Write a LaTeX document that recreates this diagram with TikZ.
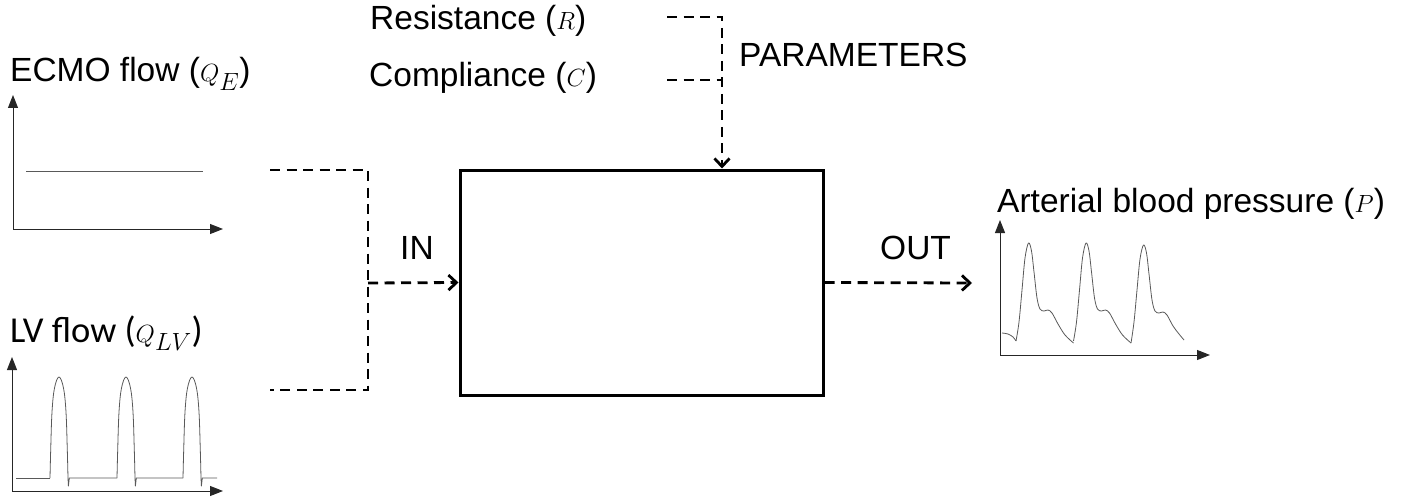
\documentclass[tikz,border=0pt]{standalone}
\usepackage{fontspec}
\setmainfont{Liberation Sans}
\newfontfamily\calibrifont{Carlito}
\usetikzlibrary{arrows.meta}

\begin{document}
\begin{tikzpicture}[x=1pt,y=-1pt,
  lbl/.style={inner sep=0pt, anchor=base west, font=\fontsize{33.5}{38}\selectfont},
  lvlbl/.style={inner sep=0pt, anchor=base west, font=\calibrifont\fontsize{36.5}{42}\selectfont},
  link/.style={line width=2.8pt, dash pattern=on 10pt off 6.5pt},
  flowarrow/.style={link, -{Straight Barb[length=8pt,width=15pt,line width=2.8pt]}},
  axis/.style={line width=1pt, draw=black!85, -{Triangle[length=13pt,width=10pt]}},
  trace/.style={line width=0.8pt, draw=black!65, line join=round},
  model/.style={draw, line width=3pt, minimum width=363pt, minimum height=225pt, inner sep=0pt}]
\useasboundingbox (0,0) rectangle (1408,500);

% ---- model block ----
\node[model] (model) at (641.5,282.5) {};

% ---- labels ----
\node[lbl] (ecmo) at (10,82) {ECMO flow (\(Q_E\))};
\node[lvlbl] (lv) at (10,342) {LV flow (\(Q_{LV}\))};
\node[lbl] (res) at (370,30) {Resistance (\(R\))};
\node[lbl] (comp) at (369,87) {Compliance (\(C\))};
\node[lbl] (par) at (739,67) {PARAMETERS};
\node[lbl] (in) at (400,259) {IN};
\node[lbl] (out) at (880,259) {OUT};
\node[lbl] (abp) at (997,212) {Arterial blood pressure (\(P\))};

% ---- connector end points ----
\coordinate (ecmoEnd) at (270,170);
\coordinate (lvEnd) at (270,390);
\coordinate (join) at (368,283);
\coordinate (rEnd) at (667,17);
\coordinate (cEnd) at (667,80);
\coordinate (pcol) at (722,17);
\coordinate (outEnd) at (972,283);

% inputs merge into the model
\draw[link] (ecmoEnd) -- (ecmoEnd -| join) -- (lvEnd -| join) -- (lvEnd);
\draw[flowarrow] (join) -- (model.west);
% parameters feed the model from above
\draw[flowarrow] (rEnd) -- (pcol) -- (pcol |- model.north);
\draw[link] (cEnd) -- (cEnd -| pcol);
% output
\draw[flowarrow] (model.east) -- (outEnd);

% ---- ECMO flow plot ----
\draw[axis] (13,229) -- (13,95);
\draw[axis] (13,229) -- (223,229);
\draw[trace] (26,171) -- (203,171);

% ---- LV flow plot ----
\draw[axis] (12,491) -- (12,357);
\draw[axis] (12,491) -- (223,491);
\draw[trace] (16,478) -- (50,478);
\foreach \s/\n in {50/117, 117/183, 183/217}{
  \draw[trace] plot[smooth, tension=0.6] coordinates
    {(\s,478) (\s+0.7,450) (\s+2,412) (\s+4.5,388) (\s+9,377) (\s+13.5,388) (\s+16,412) (\s+17.3,450) (\s+18,478)}
    -- (\s+18.4,486) -- (\s+19.3,478) -- (\n,478);
}

% ---- arterial pressure plot ----
\draw[axis] (1000,355) -- (1000,220);
\draw[axis] (1000,355) -- (1210,355);
\draw[trace] plot[smooth, tension=0.6] coordinates {(1002,333) (1008,334) (1013,337) (1016,341)};
\foreach \b in {1016,1073.5}{
  \draw[trace] plot[smooth, tension=0.55] coordinates
    {(\b,341) (\b+3,322) (\b+6,290) (\b+9,258) (\b+12.5,243) (\b+15.5,251) (\b+18,272) (\b+21,298)
     (\b+24,309) (\b+28,311) (\b+32,310) (\b+36,313) (\b+42,324) (\b+49,335) (\b+57.5,343)};
}
\draw[trace] plot[smooth, tension=0.55] coordinates
  {(1131,343) (1134,322) (1137,290) (1140,259) (1143.5,245) (1146.5,253) (1149,274) (1152,300)
   (1155,311) (1159,313) (1163,312) (1167,315) (1173,326) (1179,334) (1184,340)};

\end{tikzpicture}
\end{document}
